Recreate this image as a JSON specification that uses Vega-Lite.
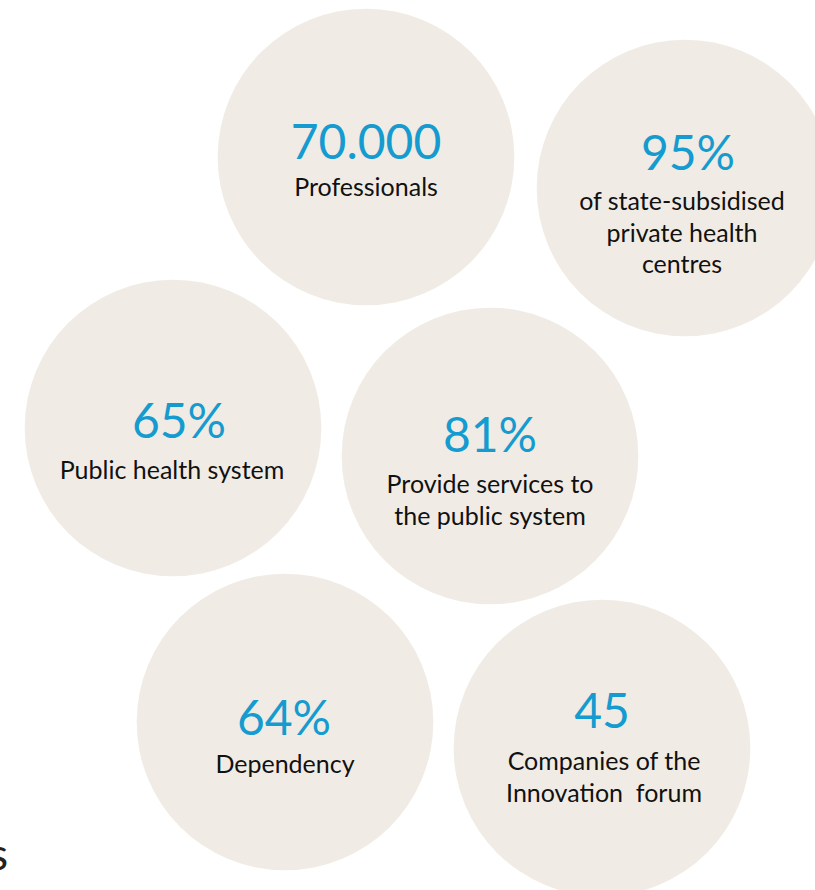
{
  "$schema": "https://vega.github.io/schema/vega-lite/v6.json",
  "width": 815,
  "height": 890,
  "padding": 0,
  "autosize": {"type": "none"},
  "background": "white",
  "config": {"view": {"stroke": null}},
  "datasets": {
    "circles": [
      {"cx": 366, "cy": 157},
      {"cx": 685, "cy": 188},
      {"cx": 173, "cy": 428},
      {"cx": 490, "cy": 456},
      {"cx": 285, "cy": 722},
      {"cx": 602, "cy": 748}
    ],
    "stats": [
      {"value": "70.000", "label": "Professionals", "nx": 366, "ny": 159, "lx": 366, "ly": 196},
      {"value": "95%", "label": "of state-subsidised\nprivate health\ncentres", "nx": 688, "ny": 170, "lx": 682, "ly": 210},
      {"value": "65%", "label": "Public health system", "nx": 179, "ny": 438, "lx": 172, "ly": 479},
      {"value": "81%", "label": "Provide services to\nthe public system", "nx": 490, "ny": 452, "lx": 490, "ly": 493},
      {"value": "64%", "label": "Dependency", "nx": 284, "ny": 735, "lx": 285, "ly": 773},
      {"value": "45", "label": "Companies of the\nInnovation \u00a0forum", "nx": 602, "ny": 728, "lx": 604, "ly": 770}
    ],
    "fragment": [
      {"text": "s", "x": 8, "y": 870}
    ]
  },
  "layer": [
    {
      "data": {"name": "circles"},
      "mark": {"type": "point", "shape": "circle", "filled": true, "size": 88000, "color": "#F0ECE5", "opacity": 1, "strokeWidth": 0},
      "encoding": {
        "x": {"field": "cx", "type": "quantitative", "scale": {"domain": [0, 815], "nice": false, "zero": false}, "axis": null},
        "y": {"field": "cy", "type": "quantitative", "scale": {"domain": [0, 890], "reverse": true, "nice": false, "zero": false}, "axis": null}
      }
    },
    {
      "data": {"name": "stats"},
      "mark": {"type": "text", "font": "Lato", "fontSize": 48, "color": "#159BCF", "align": "center", "baseline": "alphabetic"},
      "encoding": {
        "x": {"field": "nx", "type": "quantitative"},
        "y": {"field": "ny", "type": "quantitative"},
        "text": {"field": "value"}
      }
    },
    {
      "data": {"name": "stats"},
      "mark": {"type": "text", "font": "Lato", "fontSize": 25, "color": "#111111", "align": "center", "baseline": "alphabetic", "lineBreak": "\n", "lineHeight": 31.5},
      "encoding": {
        "x": {"field": "lx", "type": "quantitative"},
        "y": {"field": "ly", "type": "quantitative"},
        "text": {"field": "label"}
      }
    },
    {
      "data": {"name": "fragment"},
      "mark": {"type": "text", "font": "Lato", "fontSize": 44, "color": "#222222", "align": "right", "baseline": "alphabetic"},
      "encoding": {
        "x": {"field": "x", "type": "quantitative"},
        "y": {"field": "y", "type": "quantitative"},
        "text": {"field": "text"}
      }
    }
  ]
}
